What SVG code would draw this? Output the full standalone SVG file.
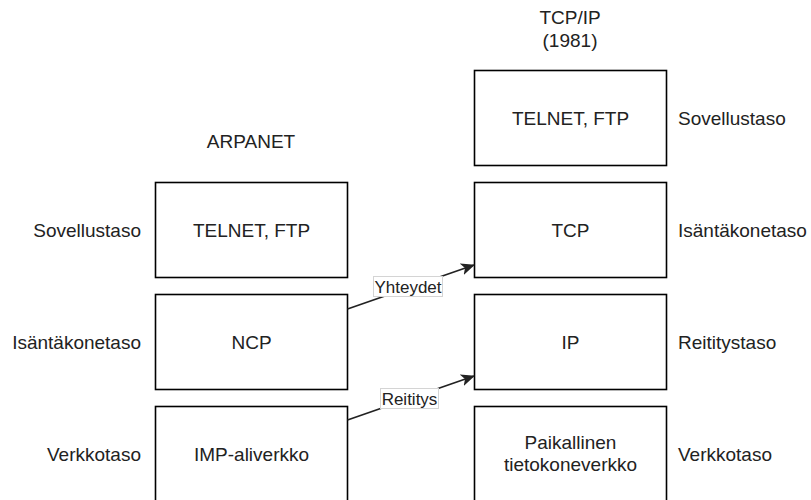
<svg xmlns="http://www.w3.org/2000/svg" width="811" height="500" viewBox="0 0 811 500">
<style>
.box{fill:#ffffff;stroke:#000000;stroke-width:1.6}
.t{font-family:"Liberation Sans",Arial,sans-serif;font-size:19px;fill:#222222}
.c{text-anchor:middle}
.r{text-anchor:end}
.lbl{font-family:"Liberation Sans",Arial,sans-serif;font-size:17px;fill:#222222;text-anchor:middle}
.lblbg{fill:#ffffff;stroke:#d4d4d4;stroke-width:1}
.edge{fill:none;stroke:#222222;stroke-width:1.6;marker-end:url(#arr)}
</style>
<defs>
<marker id="arr" viewBox="0 0 14 12" refX="13" refY="6" markerWidth="14" markerHeight="12" markerUnits="userSpaceOnUse" orient="auto">
<path d="M0,0 L14,6 L0,12 L3.5,6 Z" fill="#222222"/>
</marker>
</defs>
<rect width="811" height="500" fill="#ffffff"/>

<g id="title-arpanet"><text class="t c" x="251" y="148">ARPANET</text></g>
<g id="title-tcpip"><text class="t c" x="570" y="24">TCP/IP</text><text class="t c" x="570" y="47">(1981)</text></g>

<g id="left-labels">
<text class="t r" x="141" y="237">Sovellustaso</text>
<text class="t r" x="141" y="349">Isäntäkonetaso</text>
<text class="t r" x="141" y="461">Verkkotaso</text>
</g>
<g id="right-labels">
<text class="t" x="678" y="125">Sovellustaso</text>
<text class="t" x="678" y="237">Isäntäkonetaso</text>
<text class="t" x="678" y="349">Reititystaso</text>
<text class="t" x="678" y="461">Verkkotaso</text>
</g>

<g id="arp-app"><rect class="box" x="155.5" y="182.5" width="192" height="95"/><text class="t c" x="251.5" y="237">TELNET, FTP</text></g>
<g id="arp-ncp"><rect class="box" x="155.5" y="294.5" width="192" height="95"/><text class="t c" x="251.5" y="349">NCP</text></g>
<g id="arp-imp"><rect class="box" x="155.5" y="406.5" width="192" height="95"/><text class="t c" x="251.5" y="461">IMP-aliverkko</text></g>

<g id="tcp-app"><rect class="box" x="474.5" y="70.5" width="192" height="95"/><text class="t c" x="570.5" y="125">TELNET, FTP</text></g>
<g id="tcp-tcp"><rect class="box" x="474.5" y="182.5" width="192" height="95"/><text class="t c" x="570.5" y="237">TCP</text></g>
<g id="tcp-ip"><rect class="box" x="474.5" y="294.5" width="192" height="95"/><text class="t c" x="570.5" y="349">IP</text></g>
<g id="tcp-net"><rect class="box" x="474.5" y="406.5" width="192" height="95"/><text class="t c" x="570.5" y="449">Paikallinen</text><text class="t c" x="570.5" y="471">tietokoneverkko</text></g>

<g id="connectors">
<path class="edge" d="M347.5,309 L474,265"/>
<rect class="lblbg" x="373.5" y="276.5" width="69" height="20"/>
<text class="lbl" x="408" y="292.5">Yhteydet</text>
<path class="edge" d="M347.5,420 L474,376"/>
<rect class="lblbg" x="380.5" y="388.5" width="58" height="20"/>
<text class="lbl" x="409.5" y="404.5">Reititys</text>
</g>
</svg>
